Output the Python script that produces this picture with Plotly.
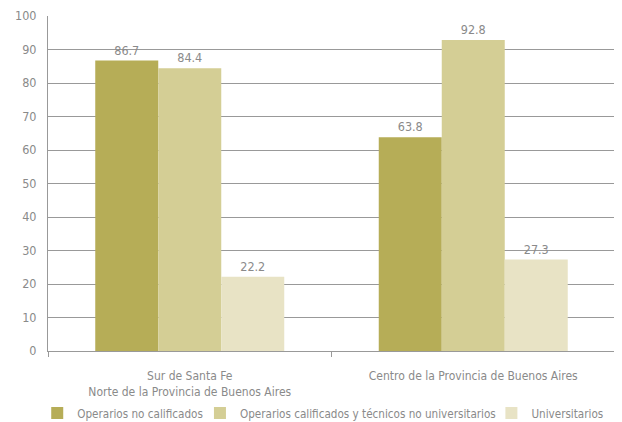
import plotly.graph_objects as go

categories = ["Sur de Santa Fe<br>Norte de la Provincia de Buenos Aires",
              "Centro de la Provincia de Buenos Aires"]
series_names = ["Operarios no calificados",
                "Operarios calificados y técnicos no universitarios",
                "Universitarios"]
values_no_calif = [86.7, 63.8]
values_calif = [84.4, 92.8]
values_univ = [22.2, 27.3]
colors = ["#b6ad57", "#d4ce95", "#e8e3c5"]
y_ticks = [0, 10, 20, 30, 40, 50, 60, 70, 80, 90, 100]

FONT = "DejaVu Sans Condensed, Liberation Sans Narrow, sans-serif"
GRAY = "#8a8a8a"
LINE = "#999999"

legend_ids = ["legend", "legend2", "legend3"]
legend_x = [-0.019, 0.268, 0.782]

fig = go.Figure()
for name, vals, col, lid in zip(series_names, [values_no_calif, values_calif, values_univ],
                                colors, legend_ids):
    fig.add_trace(go.Bar(
        x=categories, y=vals, name=name, marker=dict(color=col, line=dict(width=0)),
        text=[f"{v:.1f}" for v in vals], textposition="outside",
        textfont=dict(color=GRAY, size=12.5, family=FONT), cliponaxis=False,
        legend=lid,
    ))

legend_common = dict(orientation="h", xanchor="left", y=-0.185, yanchor="middle",
                     font=dict(size=11.6, color=GRAY, family=FONT), itemwidth=30,
                     bgcolor="rgba(0,0,0,0)")

fig.update_layout(
    width=614, height=414,
    margin=dict(l=40, r=7, t=8, b=71, autoexpand=False),
    barmode="group", bargap=1/3, bargroupgap=0,
    plot_bgcolor="white", paper_bgcolor="white",
    font=dict(family=FONT, color=GRAY, size=12),
    showlegend=True,
    legend=dict(x=legend_x[0], **legend_common),
    legend2=dict(x=legend_x[1], **legend_common),
    legend3=dict(x=legend_x[2], **legend_common),
)
fig.update_yaxes(range=[0, 100], tickvals=y_ticks, showgrid=True, gridcolor=LINE,
                 gridwidth=1, showline=True, linecolor=LINE, ticks="",
                 ticklabelstandoff=8, tickfont=dict(size=12.5, color=GRAY), zeroline=False)
fig.update_xaxes(showline=True, linecolor=LINE, ticks="outside", tickcolor=LINE,
                 ticklen=5, tickson="boundaries", ticklabelstandoff=14,
                 tickfont=dict(size=12, color=GRAY))

fig.write_html("out.html")
